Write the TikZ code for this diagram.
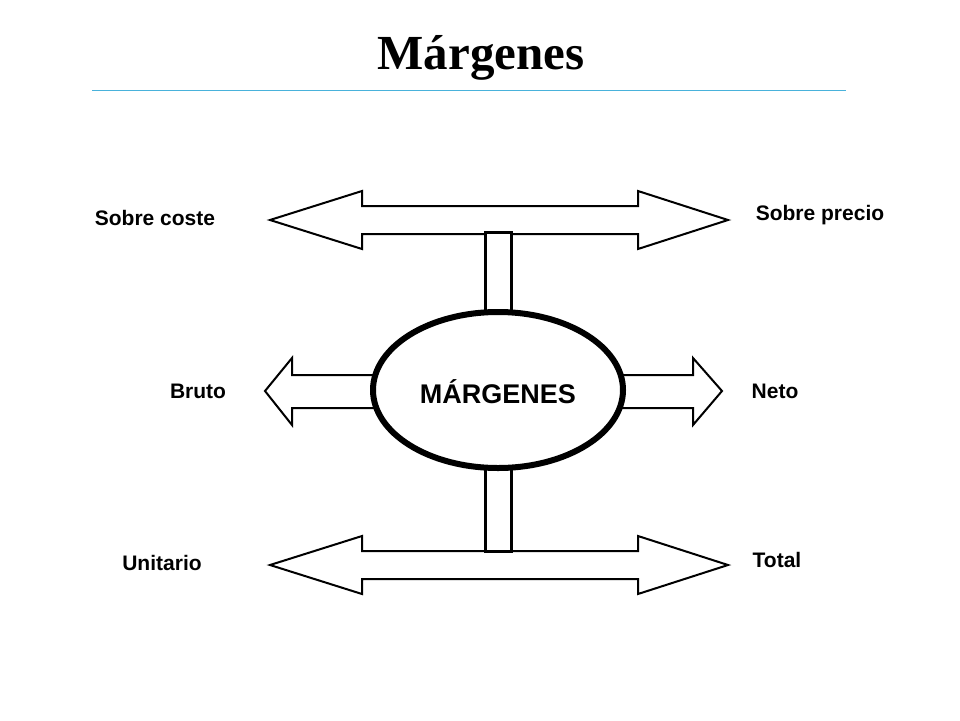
\documentclass[tikz,border=0pt]{standalone}
\usetikzlibrary{shapes.geometric}
\usepackage{fontspec}
\setmainfont{Liberation Sans}
\newfontfamily\titlefont{Liberation Serif}
\begin{document}
\begin{tikzpicture}[x=1pt,y=-1pt,
  arr/.style={draw=black,line width=2pt,fill=white,line join=miter},
  lbl/.style={font=\bfseries\fontsize{21}{24}\selectfont,inner sep=0pt}]
\useasboundingbox (0,0) rectangle (960,720);
\node[inner sep=0pt,font=\titlefont\bfseries\fontsize{49}{54}\selectfont] (title) at (481,58) {Márgenes};
\draw[cyan!70!teal!80,line width=0.8pt] (92,90) -- (846,90);
% top double arrow
\draw[arr] (270,220) -- (362,191) -- (362,206) -- (638,206) -- (638,191) -- (728,220) -- (638,249) -- (638,234) -- (362,234) -- (362,249) -- cycle;
\draw[arr] (270,565) -- (362,536) -- (362,551) -- (638,551) -- (638,536) -- (728,565) -- (638,594) -- (638,579) -- (362,579) -- (362,594) -- cycle;
% connectors
\draw[arr,line width=3pt] (485,232) rectangle (511,330);
\draw[arr,line width=3pt] (485,455) rectangle (511,551);
% side arrows
\draw[arr] (400,375) -- (292,375) -- (292,358) -- (265,391) -- (292,425) -- (292,408) -- (400,408);
\draw[arr] (600,375) -- (693,375) -- (693,358) -- (722,391) -- (693,425) -- (693,408) -- (600,408);
% ellipse
\node[draw=black,line width=6pt,fill=white,ellipse,minimum width=250pt,minimum height=156pt,inner sep=0pt] (c) at (498,390) {};
\node[lbl,font=\bfseries\fontsize{27}{30}\selectfont] (m) at (498,392) {MÁRGENES};
\node[lbl] (sc) at (155,218) {Sobre coste};
\node[lbl] (sp) at (820,215) {Sobre precio};
\node[lbl] (br) at (198,391) {Bruto};
\node[lbl] (ne) at (775,391) {Neto};
\node[lbl] (un) at (162,563) {Unitario};
\node[lbl] (to) at (777,560) {Total};
\end{tikzpicture}
\end{document}
